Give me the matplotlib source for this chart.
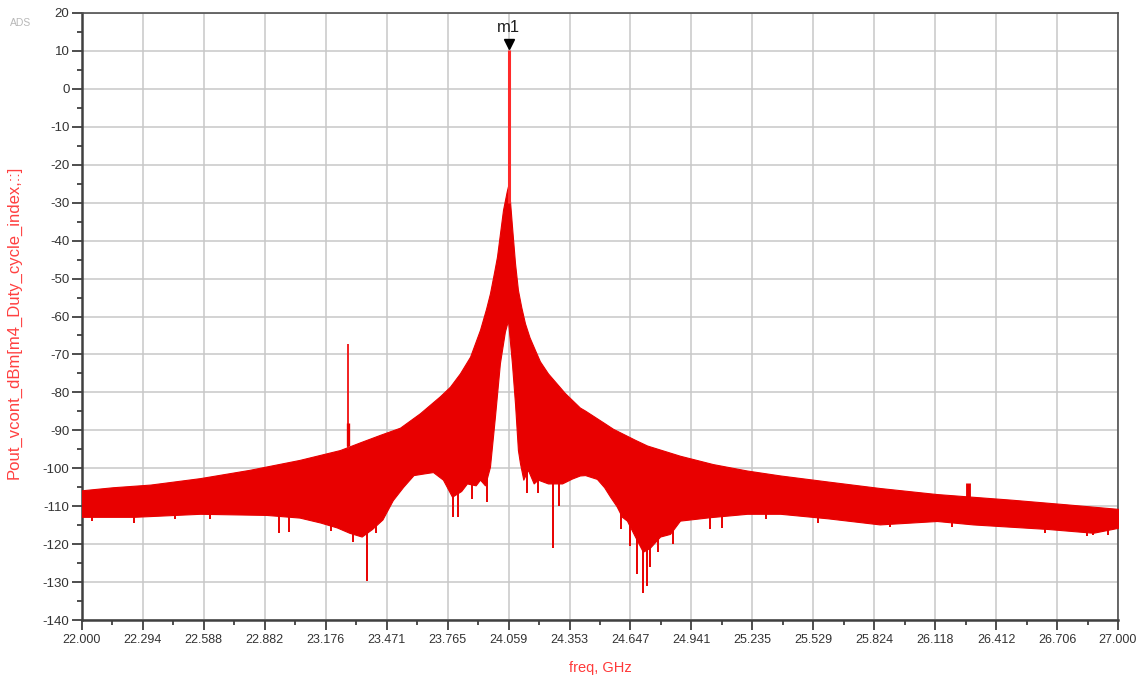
import numpy as np
import matplotlib
matplotlib.use('Agg')
import matplotlib.pyplot as plt

plt.rcParams['font.family'] = ['Liberation Sans', 'DejaVu Sans']
plt.rcParams['axes.unicode_minus'] = False

# upper edge of the spectrum band (GHz, dBm)
freq_upper = [22.00, 22.15, 22.33, 22.57, 22.81, 23.05, 23.245, 23.35, 23.438, 23.535,
              23.631, 23.728, 23.776, 23.824, 23.873, 23.921, 23.95, 23.969, 23.99, 24.003,
              24.032, 24.050, 24.059, 24.075, 24.09, 24.104, 24.12, 24.138, 24.16, 24.186,
              24.21, 24.249, 24.331, 24.403, 24.428, 24.524, 24.563, 24.669, 24.727, 24.886,
              25.045, 25.21, 25.37, 25.60, 25.85, 26.126, 26.49, 26.75, 27.00]
upper_db = [-105.8, -105.0, -104.3, -102.6, -100.4, -97.8, -95.2, -93.0, -91.2, -89.3,
            -85.5, -81.0, -78.5, -75.0, -70.6, -63.5, -58.0, -53.9, -48.0, -44.2,
            -31.9, -27.0, -25.0, -36.0, -46.0, -53.0, -57.5, -61.8, -65.5, -68.8,
            -71.8, -75.0, -80.2, -84.0, -84.8, -88.2, -89.6, -92.5, -94.0, -96.7,
            -98.9, -100.6, -101.9, -103.5, -105.2, -106.8, -108.3, -109.5, -110.7]

# lower edge of the spectrum band
freq_lower = [22.00, 22.25, 22.57, 22.89, 23.05, 23.15, 23.23, 23.29, 23.35, 23.40,
              23.45, 23.50, 23.55, 23.60, 23.646, 23.694, 23.742, 23.786, 23.83, 23.858,
              23.90, 23.921, 23.945, 23.969, 23.993, 24.017, 24.041, 24.056, 24.075, 24.090,
              24.104, 24.114, 24.13, 24.152, 24.18, 24.20, 24.249, 24.317, 24.365, 24.403,
              24.428, 24.485, 24.52, 24.55, 24.58, 24.606, 24.63, 24.669, 24.707, 24.74,
              24.79, 24.838, 24.886, 25.03, 25.21, 25.37, 25.60, 25.85, 26.126, 26.30,
              26.66, 26.88, 27.00]
lower_db = [-112.8, -112.8, -112.0, -112.3, -113.0, -114.3, -115.6, -117.0, -118.0, -116.0,
            -113.5, -108.4, -104.9, -101.8, -101.4, -101.0, -103.0, -107.5, -106.0, -104.0,
            -104.5, -103.0, -104.5, -99.6, -86.4, -72.3, -64.0, -61.0, -72.3, -83.0,
            -95.2, -98.7, -103.0, -100.4, -104.0, -103.0, -104.0, -104.0, -102.7, -101.9,
            -101.8, -102.8, -105.0, -107.6, -110.0, -112.8, -113.8, -118.0, -122.0, -121.0,
            -118.0, -117.3, -113.8, -112.9, -112.0, -112.0, -113.2, -114.8, -113.9, -114.8,
            -116.0, -117.0, -115.7]

# narrow downward dips below the band
dip_freq = [22.05, 22.25, 22.45, 22.62, 22.95, 23.00, 23.20, 23.31, 23.375, 23.42,
            23.79, 23.815, 23.88, 23.955, 24.15, 24.20, 24.273, 24.30, 24.60, 24.645,
            24.68, 24.707, 24.725, 24.74, 24.78, 24.85, 25.03, 25.09, 25.30, 25.55,
            25.90, 26.20, 26.65, 26.85, 26.88, 26.95]
dip_db = [-114.0, -114.3, -113.5, -113.5, -117.0, -116.7, -116.5, -119.5, -129.7, -117.0,
          -112.8, -112.8, -108.0, -108.8, -106.6, -106.6, -121.0, -110.0, -116.0, -120.4,
          -128.0, -133.0, -131.0, -126.0, -122.0, -120.0, -116.0, -115.8, -113.5, -114.5,
          -115.5, -115.5, -117.0, -117.8, -117.5, -117.5]

# carrier and spurs
carrier_freq = 24.059
carrier_db = 10.3
spur_freq = [23.284, 26.276]
spur_db = [-67.2, -103.9]

x_ticks = [22.000, 22.294, 22.588, 22.882, 23.176, 23.471, 23.765, 24.059, 24.353,
           24.647, 24.941, 25.235, 25.529, 25.824, 26.118, 26.412, 26.706, 27.000]
x_labels = ['22.000', '22.294', '22.588', '22.882', '23.176', '23.471', '23.765', '24.059',
            '24.353', '24.647', '24.941', '25.235', '25.529', '25.824', '26.118', '26.412',
            '26.706', '27.000']
y_ticks = list(range(-140, 21, 10))

red = '#e80000'

fig = plt.figure(figsize=(11.4, 6.8), dpi=100)
ax = fig.add_axes([0.0719, 0.0882, 0.9088, 0.8927])

# band drawn on a common grid made from both edges
grid_f = np.union1d(freq_upper, freq_lower)
up = np.interp(grid_f, freq_upper, upper_db)
lo = np.interp(grid_f, freq_lower, lower_db)
ax.fill_between(grid_f, lo, up, color=red, linewidth=0.8, edgecolor=red, zorder=3)

dip_top = np.interp(dip_freq, freq_lower, lower_db) + 1
ax.vlines(dip_freq, dip_db, dip_top, color=red, linewidth=1.4, zorder=3)

ax.vlines(carrier_freq, -30, carrier_db, color='#ff2a2a', linewidth=2.2, zorder=4)
ax.vlines(spur_freq[0], -95, spur_db[0], color='#f01010', linewidth=1.3, zorder=4)
ax.vlines(spur_freq[0], -94, -88, color=red, linewidth=2.4, zorder=4)
ax.vlines(spur_freq[1], -108, spur_db[1], color=red, linewidth=3.5, zorder=4)

# marker m1
ax.plot([carrier_freq], [11.8], marker='v', color='black', markersize=7, zorder=5)
ax.text(carrier_freq, 14.2, 'm1', ha='center', va='bottom', fontsize=12, color='#202020', zorder=5)

ax.set_xlim(22, 27)
ax.set_ylim(-140, 20)
ax.set_xticks(x_ticks)
ax.set_xticklabels(x_labels)
ax.set_yticks(y_ticks)
ax.set_xticks([22 + (i + 0.5) * 5 / 17 for i in range(17)], minor=True)
ax.set_yticks(range(-135, 20, 10), minor=True)
ax.tick_params(axis='both', which='major', direction='out', length=7, width=1.2,
               color='#303030', labelsize=9.5, labelcolor='#333333', pad=2)
ax.tick_params(axis='both', which='minor', direction='out', length=3.5, width=1.2,
               color='#303030')
ax.tick_params(axis='x', which='major', pad=3, labelsize=9)
ax.grid(True, which='major', color='#c8c8c8', linewidth=1.1)
ax.set_axisbelow(True)
for side in ['left', 'bottom']:
    ax.spines[side].set_linewidth(1.8)
    ax.spines[side].set_color('#404040')
for side in ['top', 'right']:
    ax.spines[side].set_linewidth(1.2)
    ax.spines[side].set_color('#505050')

ax.set_xlabel('freq, GHz', color='#ff3a3a', fontsize=10.5)
ax.xaxis.set_label_coords(0.5, -0.067)
ax.set_ylabel('Pout_vcont_dBm[m4_Duty_cycle_index,::]', color='#ff4040', fontsize=12)
ax.yaxis.set_label_coords(-0.058, 0.49)
fig.text(0.009, 0.962, 'ADS', fontsize=7.5, color='#b8b8b8')

fig.savefig('out.png', dpi=100)
